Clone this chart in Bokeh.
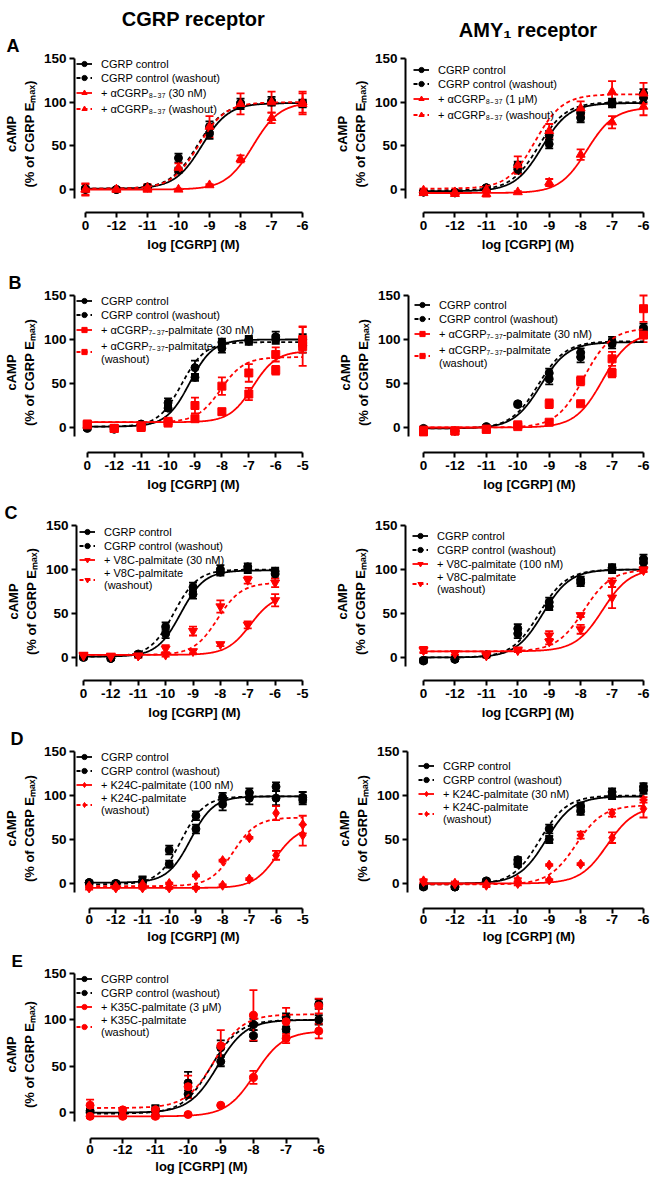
import numpy as np
from bokeh.plotting import figure
from bokeh.models import (ColumnDataSource, FixedTicker, Legend, LegendItem,
                          Whisker, TeeHead, Title)
from bokeh.layouts import column, row
from bokeh.embed import file_html
from bokeh.resources import INLINE

# ------------------------------------------------------------------ data
x_to6 = [-13, -12, -11, -10, -9, -8, -7, -6]
x_to5 = [-13, -12, -11, -10, -9, -8, -7, -6, -5]
ticks_to6 = [-13, -12, -11, -10, -9, -8, -7, -6]
ticks_to5 = [-13, -12, -11, -10, -9, -8, -7, -6, -5]
tick_labels_to6 = ["0", "-12", "-11", "-10", "-9", "-8", "-7", "-6"]
tick_labels_to5 = ["0", "-12", "-11", "-10", "-9", "-8", "-7", "-6", "-5"]
y_ticks = [0, 50, 100, 150]

column_titles = ["CGRP receptor", "AMY\u2081 receptor"]
panel_letters = ["A", "B", "C", "D", "E"]
x_title = "log [CGRP] (M)"
y_title = "cAMP\n(% of CGRP E\u2098\u2090\u2093)"

# Panel A, CGRP receptor
a1_ctrl = [0, 0, 2, 22, 64, 96, 100, 99]
a1_ctrl_err = [2, 1, 2, 3, 6, 4, 3, 4]
a1_ctrlw = [1, 0, 3, 36, 72, 99, 101, 98]
a1_ctrlw_err = [2, 1, 2, 5, 6, 5, 5, 4]
a1_ant = [0, 0, 0, 0, 5, 35, 82, 98]
a1_ant_err = [7, 2, 2, 1, 1, 4, 6, 12]
a1_antw = [0, 0, 2, 25, 72, 98, 100, 100]
a1_antw_err = [6, 2, 4, 5, 12, 12, 12, 12]
a1_fits = [[1, 99, -9.25], [1, 99, -9.4], [0, 100, -7.6], [1, 100, -9.35]]
a1_labels = ["CGRP control", "CGRP control (washout)",
             "+ \u03b1CGRP\u2088\u208b\u2083\u2087 (30 nM)",
             "+ \u03b1CGRP\u2088\u208b\u2083\u2087 (washout)"]

# Panel A, AMY1 receptor
a2_ctrl = [-3, -3, 2, 23, 52, 82, 98, 105]
a2_ctrl_err = [2, 2, 2, 4, 5, 5, 4, 5]
a2_ctrlw = [-3, -4, 2, 28, 62, 88, 100, 110]
a2_ctrlw_err = [2, 2, 2, 4, 5, 5, 4, 5]
a2_ant = [-4, -5, -5, -3, 8, 40, 77, 95]
a2_ant_err = [2, 2, 3, 1, 4, 6, 7, 10]
a2_antw = [-1, -3, 0, 28, 67, 93, 112, 110]
a2_antw_err = [2, 2, 2, 10, 8, 8, 12, 12]
a2_fits = [[-2, 99, -9.23], [-1, 100, -9.34], [-4, 94, -7.8], [1, 109, -9.45]]
a2_labels = ["CGRP control", "CGRP control (washout)",
             "+ \u03b1CGRP\u2088\u208b\u2083\u2087 (1 \u03bcM)",
             "+ \u03b1CGRP\u2088\u208b\u2083\u2087 (washout)"]

# Panel B, CGRP receptor
b1_ctrl = [-1, -2, 3, 22, 57, 90, 98, 100, 93]
b1_ctrl_err = [2, 2, 2, 3, 4, 5, 4, 5, 8]
b1_ctrlw = [0, -1, 4, 28, 68, 97, 100, 103, 100]
b1_ctrlw_err = [2, 2, 2, 5, 8, 4, 4, 6, 6]
b1_ant = [4, -1, 1, 5, 10, 18, 38, 65, 92]
b1_ant_err = [2, 2, 2, 3, 3, 3, 7, 5, 22]
b1_antw = [3, -1, 0, 7, 25, 47, 62, 83, 100]
b1_antw_err = [2, 2, 2, 3, 9, 10, 10, 8, 15]
b1_fits = [[1, 100, -9.2], [1, 97, -9.5], [6, 87, -6.85], [6, 80, -8.05]]
b1_labels = ["CGRP control", "CGRP control (washout)",
             "+ \u03b1CGRP\u2087\u208b\u2083\u2087-palmitate (30 nM)",
             "+ \u03b1CGRP\u2087\u208b\u2083\u2087-palmitate\n(washout)"]

# Panel B, AMY1 receptor
b2_ctrl = [-2, -4, 0, 26, 55, 80, 95, 110]
b2_ctrl_err = [2, 2, 2, 2, 6, 6, 5, 5]
b2_ctrlw = [-1, -4, 1, 27, 62, 85, 98, 113]
b2_ctrlw_err = [2, 2, 2, 2, 5, 5, 5, 5]
b2_ant = [-5, -4, -2, 1, 6, 27, 62, 105]
b2_ant_err = [2, 2, 2, 2, 2, 2, 5, 8]
b2_antw = [-3, -4, -2, 3, 27, 53, 78, 135]
b2_antw_err = [2, 2, 2, 3, 5, 5, 8, 15]
b2_fits = [[-1, 97, -9.27], [-1, 98, -9.35], [0, 108, -7.3], [0, 113, -7.9]]
b2_labels = ["CGRP control", "CGRP control (washout)",
             "+ \u03b1CGRP\u2087\u208b\u2083\u2087-palmitate (30 nM)",
             "+ \u03b1CGRP\u2087\u208b\u2083\u2087-palmitate\n(washout)"]

# Panel C, CGRP receptor
c1_ctrl = [0, -1, 3, 27, 72, 97, 100, 95]
c1_ctrl_err = [2, 2, 2, 5, 5, 4, 4, 5]
c1_ctrlw = [1, -1, 4, 35, 80, 100, 103, 98]
c1_ctrlw_err = [2, 2, 2, 5, 5, 5, 4, 4]
c1_ant = [2, 1, 2, 3, 7, 15, 37, 65]
c1_ant_err = [2, 2, 2, 2, 2, 2, 4, 7]
c1_antw = [3, 2, 2, 10, 30, 58, 88, 85]
c1_antw_err = [2, 2, 2, 4, 5, 7, 4, 5]
c1_fits = [[1, 99, -9.45], [1, 100, -9.7], [3, 72, -6.9], [3, 85, -8.1]]
c1_labels = ["CGRP control", "CGRP control (washout)",
             "+ V8C-palmitate (30 nM)", "+ V8C-palmitate\n(washout)"]

# Panel C, AMY1 receptor
c2_ctrl = [-4, -2, 3, 27, 58, 85, 100, 108]
c2_ctrl_err = [2, 2, 2, 5, 4, 4, 4, 5]
c2_ctrlw = [-3, -2, 3, 33, 63, 88, 102, 112]
c2_ctrlw_err = [2, 2, 2, 5, 5, 4, 4, 5]
c2_ant = [8, 5, 2, 8, 18, 32, 68, 99]
c2_ant_err = [3, 2, 2, 2, 3, 5, 12, 2]
c2_antw = [9, 5, 3, 9, 25, 48, 85, 100]
c2_antw_err = [3, 2, 2, 2, 5, 2, 5, 2]
c2_fits = [[0, 100, -9.2], [0, 100, -9.32], [7, 101, -7.3], [7, 100, -7.9]]
c2_labels = ["CGRP control", "CGRP control (washout)",
             "+ V8C-palmitate (100 nM)", "+ V8C-palmitate\n(washout)"]

# Panel D, CGRP receptor
d1_ctrl = [1, 0, 3, 22, 62, 90, 97, 97, 95]
d1_ctrl_err = [2, 2, 5, 4, 5, 7, 7, 8, 5]
d1_ctrlw = [1, 0, 2, 38, 77, 98, 103, 110, 98]
d1_ctrlw_err = [2, 2, 5, 5, 5, 5, 5, 5, 6]
d1_ant = [-5, -5, -5, -5, -5, -2, 5, 32, 55]
d1_ant_err = [2, 1, 1, 1, 1, 1, 1, 5, 12]
d1_antw = [-3, -3, -1, 0, 9, 26, 52, 80, 67]
d1_antw_err = [2, 1, 1, 1, 1, 1, 1, 8, 10]
d1_fits = [[1, 99, -9.2], [-1, 99, -9.55], [-5, 65, -6.0], [-3, 75, -7.6]]
d1_labels = ["CGRP control", "CGRP control (washout)",
             "+ K24C-palmitate (100 nM)", "+ K24C-palmitate\n(washout)"]

# Panel D, AMY1 receptor
d2_ctrl = [-4, -4, 2, 22, 50, 82, 100, 106]
d2_ctrl_err = [2, 2, 2, 3, 4, 4, 4, 4]
d2_ctrlw = [-3, -4, 3, 27, 62, 88, 104, 110]
d2_ctrlw_err = [2, 2, 2, 3, 5, 4, 4, 4]
d2_ant = [3, 0, -2, 0, 4, 22, 52, 85]
d2_ant_err = [2, 2, 2, 2, 1, 1, 6, 10]
d2_antw = [2, 0, -1, 4, 21, 55, 80, 95]
d2_antw_err = [2, 2, 2, 2, 1, 4, 4, 3]
d2_fits = [[0, 99, -9.1], [-1, 100, -9.3], [0, 88, -7.15], [-1, 89, -8.15]]
d2_labels = ["CGRP control", "CGRP control (washout)",
             "+ K24C-palmitate (30 nM)", "+ K24C-palmitate\n(washout)"]

# Panel E, CGRP receptor
e1_ctrl = [0, -2, 2, 20, 55, 83, 90, 100]
e1_ctrl_err = [2, 2, 5, 4, 5, 6, 3, 5]
e1_ctrlw = [2, -2, 3, 32, 70, 95, 103, 117]
e1_ctrlw_err = [2, 2, 5, 12, 8, 6, 4, 5]
e1_ant = [-4, -4, -4, -2, 8, 38, 80, 88]
e1_ant_err = [2, 2, 2, 1, 1, 7, 5, 8]
e1_antw = [8, 3, 3, 28, 72, 105, 98, 115]
e1_antw_err = [6, 2, 2, 12, 17, 27, 15, 8]
e1_fits = [[0, 100, -9.1], [-1, 100, -9.3], [-4, 88, -7.95], [5, 106, -9.2]]
e1_labels = ["CGRP control", "CGRP control (washout)",
             "+ K35C-palmitate (3 \u03bcM)", "+ K35C-palmitate\n(washout)"]

# ------------------------------------------------------------------ style
FONT = "Liberation Sans"
BLACK = "#000000"
RED = "#ff0000"
SOLID = "solid"
DASH = "4 3"


def fit_curve(params, x_end):
    bottom, top, logec50 = params
    cx = np.linspace(-13, x_end, 300)
    cy = bottom + (top - bottom) / (1 + 10 ** (logec50 - cx))
    return cx, cy


def make_panel(geom, xs, ticks, tick_labels, series, fits, labels, red_marker,
               red_size, legend_margin, letter=None, letter_size="18px",
               col_title=None, title_offset=0, title_standoff=8, tight=False):
    W, H, fl, fr, ft, fb, x13, xend, y150, y0 = geom
    xmax = ticks[-1]
    sx = (xend - x13) / (xmax + 13)
    x_start = -13 - (x13 - fl) / sx
    x_stop = xmax + (fr - xend) / sx
    sy = (y0 - y150) / 150.0
    y_stop = 150 + (y150 - ft) / sy
    y_start = -(fb - y0) / sy

    p = figure(width=W, height=H, x_range=(x_start, x_stop),
               y_range=(y_start, y_stop), output_backend="svg",
               toolbar_location=None, title=None, min_border_left=fl,
               min_border_right=W - fr, min_border_top=ft,
               min_border_bottom=H - fb)
    p.xgrid.visible = False
    p.ygrid.visible = False
    p.outline_line_color = None

    for ax in (p.xaxis[0], p.yaxis[0]):
        ax.axis_line_width = 2
        ax.axis_line_color = BLACK
        ax.major_tick_line_width = 2
        ax.major_tick_line_color = BLACK
        ax.major_tick_in = 0
        ax.major_tick_out = 5
        ax.minor_tick_in = 0
        ax.minor_tick_out = 0
        ax.major_label_text_font = FONT
        ax.major_label_text_font_style = "bold"
        ax.major_label_text_font_size = "13.5px"
        ax.major_label_text_color = BLACK
        ax.axis_label_text_font = FONT
        ax.axis_label_text_font_style = "bold"
        ax.axis_label_text_font_size = "13px"
        ax.axis_label_text_color = BLACK

    p.xaxis.ticker = FixedTicker(ticks=ticks)
    p.xaxis.major_label_overrides = dict(zip(ticks, tick_labels))
    p.xaxis.bounds = (-13, xmax)
    p.xaxis.major_label_standoff = 1 if tight else 3
    p.xaxis.axis_label = x_title
    p.xaxis.axis_label_standoff = 2 if tight else 4

    p.yaxis.ticker = FixedTicker(ticks=y_ticks)
    p.yaxis.bounds = (-10, 150)
    p.yaxis.major_label_standoff = 3
    p.yaxis.axis_label = y_title
    p.yaxis.axis_label_standoff = 4

    styles = [(BLACK, "circle", 8, SOLID), (BLACK, "circle", 8, DASH),
              (RED, red_marker, red_size, SOLID), (RED, red_marker, red_size, DASH)]
    items = []
    for (ys, err), fit, lab, (col, mk, sz, dash) in zip(series, fits, labels, styles):
        n = len(ys)
        xx = xs[:n]
        cx, cy = fit_curve(fit, xx[-1])
        rl = p.line(cx, cy, line_color=col, line_width=1.8, line_dash=dash)
        src = ColumnDataSource(dict(x=xx, y=ys,
                                    up=[v + e for v, e in zip(ys, err)],
                                    lo=[v - e for v, e in zip(ys, err)]))
        wk = Whisker(source=src, base="x", upper="up", lower="lo",
                     line_color=col, line_width=1.8,
                     upper_head=TeeHead(size=8, line_color=col, line_width=1.8),
                     lower_head=TeeHead(size=8, line_color=col, line_width=1.8))
        p.add_layout(wk)
        rs = p.scatter("x", "y", source=src, marker=mk, size=sz,
                       fill_color=col, line_color=col)
        items.append(LegendItem(label=lab, renderers=[rl, rs]))

    legend = Legend(items=items, location="top_left", margin=legend_margin,
                    padding=0, spacing=1, label_height=13, glyph_height=13,
                    glyph_width=16, label_standoff=9, label_text_font=FONT,
                    label_text_font_size="11px", label_text_color=BLACK,
                    background_fill_alpha=0, border_line_alpha=0)
    p.add_layout(legend)

    if letter is not None:
        p.add_layout(Title(text=letter, align="left", offset=4 - fl,
                           text_font=FONT, text_font_style="bold",
                           text_font_size=letter_size, text_color=BLACK,
                           standoff=0, vertical_align="bottom"), "above")
    if col_title is not None:
        p.add_layout(Title(text=col_title, align="center", offset=title_offset,
                           text_font=FONT, text_font_style="bold",
                           text_font_size="20px", text_color=BLACK,
                           standoff=title_standoff, vertical_align="bottom"),
                     "above")
    return p


# figure-local pixel geometry: W, H, frame left, frame right, frame top,
# frame bottom, x of "0" tick, x of last tick, y of 150 tick, y of 0 tick
gA1 = (325, 270, 72, 312, 55, 212, 83, 302, 58, 189)
gA2 = (325, 270, 80, 325, 55, 212, 98, 318, 58, 189)
gB1 = (325, 230, 70, 312, 22, 182, 83, 302, 25, 157)
gB2 = (325, 230, 83, 325, 22, 182, 98, 318, 25, 157)
gC1 = (325, 226, 76, 312, 22, 180, 83, 302, 25, 157)
gC2 = (325, 226, 80, 325, 22, 180, 98, 318, 25, 157)
gD1 = (325, 223, 68, 312, 22, 182, 83, 302, 25, 157)
gD2 = (325, 223, 82, 325, 22, 182, 98, 318, 25, 157)
gE1 = (335, 229, 67, 328, 20, 189, 83, 318, 23, 163)

pA1 = make_panel(gA1, x_to6, ticks_to6, tick_labels_to6,
                 [(a1_ctrl, a1_ctrl_err), (a1_ctrlw, a1_ctrlw_err),
                  (a1_ant, a1_ant_err), (a1_antw, a1_antw_err)],
                 a1_fits, a1_labels, "triangle", 9, 2,
                 letter=panel_letters[0], col_title=column_titles[0])
pA2 = make_panel(gA2, x_to6, ticks_to6, tick_labels_to6,
                 [(a2_ctrl, a2_ctrl_err), (a2_ctrlw, a2_ctrlw_err),
                  (a2_ant, a2_ant_err), (a2_antw, a2_antw_err)],
                 a2_fits, a2_labels, "triangle", 9, 8,
                 col_title=column_titles[1], title_offset=-13,
                 title_standoff=29)
pB1 = make_panel(gB1, x_to5, ticks_to5, tick_labels_to5,
                 [(b1_ctrl, b1_ctrl_err), (b1_ctrlw, b1_ctrlw_err),
                  (b1_ant, b1_ant_err), (b1_antw, b1_antw_err)],
                 b1_fits, b1_labels, "square", 8, 2,
                 letter=panel_letters[1])
pB2 = make_panel(gB2, x_to6, ticks_to6, tick_labels_to6,
                 [(b2_ctrl, b2_ctrl_err), (b2_ctrlw, b2_ctrlw_err),
                  (b2_ant, b2_ant_err), (b2_antw, b2_antw_err)],
                 b2_fits, b2_labels, "square", 8, 6)
pC1 = make_panel(gC1, x_to6, ticks_to5, tick_labels_to5,
                 [(c1_ctrl, c1_ctrl_err), (c1_ctrlw, c1_ctrlw_err),
                  (c1_ant, c1_ant_err), (c1_antw, c1_antw_err)],
                 c1_fits, c1_labels, "inverted_triangle", 9, 3,
                 letter=panel_letters[2])
pC2 = make_panel(gC2, x_to6, ticks_to6, tick_labels_to6,
                 [(c2_ctrl, c2_ctrl_err), (c2_ctrlw, c2_ctrlw_err),
                  (c2_ant, c2_ant_err), (c2_antw, c2_antw_err)],
                 c2_fits, c2_labels, "inverted_triangle", 9, 7)
pD1 = make_panel(gD1, x_to5, ticks_to5, tick_labels_to5,
                 [(d1_ctrl, d1_ctrl_err), (d1_ctrlw, d1_ctrlw_err),
                  (d1_ant, d1_ant_err), (d1_antw, d1_antw_err)],
                 d1_fits, d1_labels, "diamond", 10, 2,
                 letter=panel_letters[3], tight=True)
pD2 = make_panel(gD2, x_to6, ticks_to6, tick_labels_to6,
                 [(d2_ctrl, d2_ctrl_err), (d2_ctrlw, d2_ctrlw_err),
                  (d2_ant, d2_ant_err), (d2_antw, d2_antw_err)],
                 d2_fits, d2_labels, "diamond", 10, 11, tight=True)
pE1 = make_panel(gE1, x_to6, ticks_to6, tick_labels_to6,
                 [(e1_ctrl, e1_ctrl_err), (e1_ctrlw, e1_ctrlw_err),
                  (e1_ant, e1_ant_err), (e1_antw, e1_antw_err)],
                 e1_fits, e1_labels, "circle", 8, 2,
                 letter=panel_letters[4], letter_size="17px", tight=True)

layout = column(row(pA1, pA2), row(pB1, pB2), row(pC1, pC2),
                row(pD1, pD2), pE1)

open("out.html", "w").write(file_html(layout, INLINE))
